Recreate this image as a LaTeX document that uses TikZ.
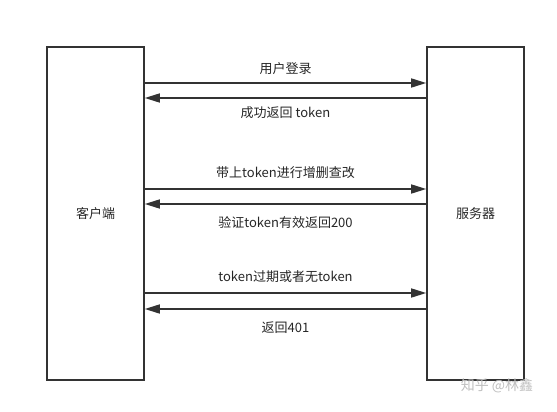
\documentclass[tikz,border=0pt]{standalone}
\usepackage{fontspec}
\setmainfont{Noto Sans CJK SC}
\usetikzlibrary{arrows.meta}
\tikzset{side node/.style={rectangle,draw=black!80,line width=1.6pt,minimum width=97pt,minimum height=333pt,inner sep=0pt,font=\fontsize{13}{15}\selectfont},
}
\begin{document}
\begin{tikzpicture}[x=1pt,y=-1pt,>={Triangle[length=15pt,width=9pt]},
		msg/.style={->,line width=1.6pt,draw=black!80},
		every node/.style={font=\fontsize{13}{15}\selectfont,text=black!85}]
		\useasboundingbox (0,0) rectangle (557,412);
		
		\node[side node] (client) at (95.5,213.5) {客户端};
		\node[side node] (server) at (475.5,213.5) {服务器};
		
		\coordinate (m1) at (0,83);
		\coordinate (m2) at (0,98);
		\coordinate (m3) at (0,189);
		\coordinate (m4) at (0,204);
		\coordinate (m5) at (0,293);
		\coordinate (m6) at (0,309);
		
		\draw[msg] (client.east |- m1) -- node[yshift=14.5pt] {用户登录} (server.west |- m1);
		\draw[msg] (server.west |- m2) -- node[yshift=-15pt] {成功返回 token} (client.east |- m2);
		\draw[msg] (client.east |- m3) -- node[yshift=16pt] {带上token进行增删查改} (server.west |- m3);
		\draw[msg] (server.west |- m4) -- node[yshift=-19pt] {验证token有效返回200} (client.east |- m4);
		\draw[msg] (client.east |- m5) -- node[yshift=16pt] {token过期或者无token} (server.west |- m5);
		\draw[msg] (server.west |- m6) -- node[yshift=-19pt] {返回401} (client.east |- m6);
		
		\node[text=black!25,font=\fontsize{14}{16}\selectfont] (mark) at (497,386) {知乎 @林鑫};
\end{tikzpicture}
\end{document}
